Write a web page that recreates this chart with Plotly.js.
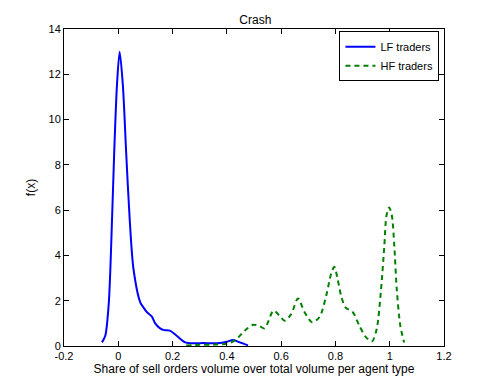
<!DOCTYPE html>
<html>
<head>
<meta charset="utf-8">
<script src="https://cdn.plot.ly/plotly-3.0.1.min.js"></script>
<style>
  html, body { margin: 0; padding: 0; background: #fff; }
  #chart { width: 491px; height: 390px; }
</style>
</head>
<body>
<div id="chart"></div>
<script>
// Kernel density estimates
const lfX = [-0.060, -0.048, -0.035, -0.023, -0.015, -0.005, 0.005, 0.017, 0.029, 0.042, 0.056,
             0.081, 0.093, 0.105, 0.124, 0.136, 0.154, 0.170, 0.190, 0.215, 0.246, 0.280,
             0.313, 0.345, 0.374, 0.399, 0.423, 0.448, 0.478];
const lfY = [0.16, 0.45, 1.9, 5.6, 8.55, 11.5, 13.0, 11.5, 8.55, 5.6, 3.4,
             1.93, 1.7, 1.5, 1.3, 1.0, 0.78, 0.70, 0.68, 0.45, 0.16, 0.12,
             0.13, 0.12, 0.13, 0.19, 0.26, 0.16, 0.03];

const hfX = [0.250, 0.300, 0.350, 0.411, 0.442, 0.466, 0.497, 0.521, 0.539, 0.572, 0.594, 0.613,
             0.637, 0.662, 0.686, 0.714, 0.741, 0.766, 0.784, 0.796, 0.808, 0.821, 0.837,
             0.864, 0.888, 0.913, 0.935, 0.952, 0.968, 0.980, 0.988, 0.998, 1.008, 1.017,
             1.026, 1.039, 1.053];
const hfY = [0.02, 0.05, 0.06, 0.13, 0.38, 0.68, 0.94, 0.87, 0.78, 1.56, 1.34, 1.12,
             1.41, 2.1, 1.5, 1.05, 1.27, 2.22, 3.18, 3.5, 2.96, 2.22, 1.71,
             1.49, 0.9, 0.38, 0.21, 0.75, 2.5, 4.4, 5.75, 6.12, 5.75, 4.4,
             2.5, 0.9, 0.16];

const xTicks = [-0.2, 0, 0.2, 0.4, 0.6, 0.8, 1, 1.2];
const xTickText = ['-0.2', '0', '0.2', '0.4', '0.6', '0.8', '1', '1.2'];

const fontFam = 'Liberation Sans, Arial, sans-serif';

const traces = [
    {
        x: lfX, y: lfY, type: 'scatter', mode: 'lines', name: 'LF traders',
        line: { color: '#0000ff', width: 2, shape: 'spline', smoothing: 0.8 }
    },
    {
        x: hfX, y: hfY, type: 'scatter', mode: 'lines', name: 'HF traders',
        line: { color: '#008000', width: 2, dash: '5px,4px', shape: 'spline', smoothing: 0.8 }
    }
];

const axisStyle = {
    showline: true, linecolor: '#000', linewidth: 1, mirror: 'ticks',
    ticks: 'inside', ticklen: 5, tickcolor: '#000',
    showgrid: false, zeroline: false,
    tickfont: { family: fontFam, size: 11, color: '#000' }
};

const layout = {
    width: 491, height: 390,
    margin: { l: 64, r: 47, t: 29, b: 44 },
    paper_bgcolor: '#fff', plot_bgcolor: '#fff',
    font: { family: fontFam, color: '#000' },
    title: { text: 'Crash', font: { size: 12, family: fontFam }, x: 0.52, xanchor: 'center', y: 0.948, yanchor: 'middle' },
    xaxis: Object.assign({}, axisStyle, {
        range: [-0.2, 1.2],
        tickvals: xTicks, ticktext: xTickText,
        title: { text: 'Share of sell orders volume over total volume per agent type', font: { size: 12, family: fontFam }, standoff: 3 }
    }),
    yaxis: Object.assign({}, axisStyle, {
        range: [0, 14], dtick: 2,
        title: { text: 'f(x)', font: { size: 12, family: fontFam }, standoff: 10 }
    }),
    showlegend: true,
    legend: {
        x: 0.988, y: 0.993, xanchor: 'right', yanchor: 'top',
        bgcolor: '#fff', bordercolor: '#000', borderwidth: 1,
        font: { size: 11, family: fontFam },
        tracegroupgap: 0, itemwidth: 30
    }
};

Plotly.newPlot('chart', traces, layout, { displayModeBar: false, staticPlot: true });
</script>
</body>
</html>
